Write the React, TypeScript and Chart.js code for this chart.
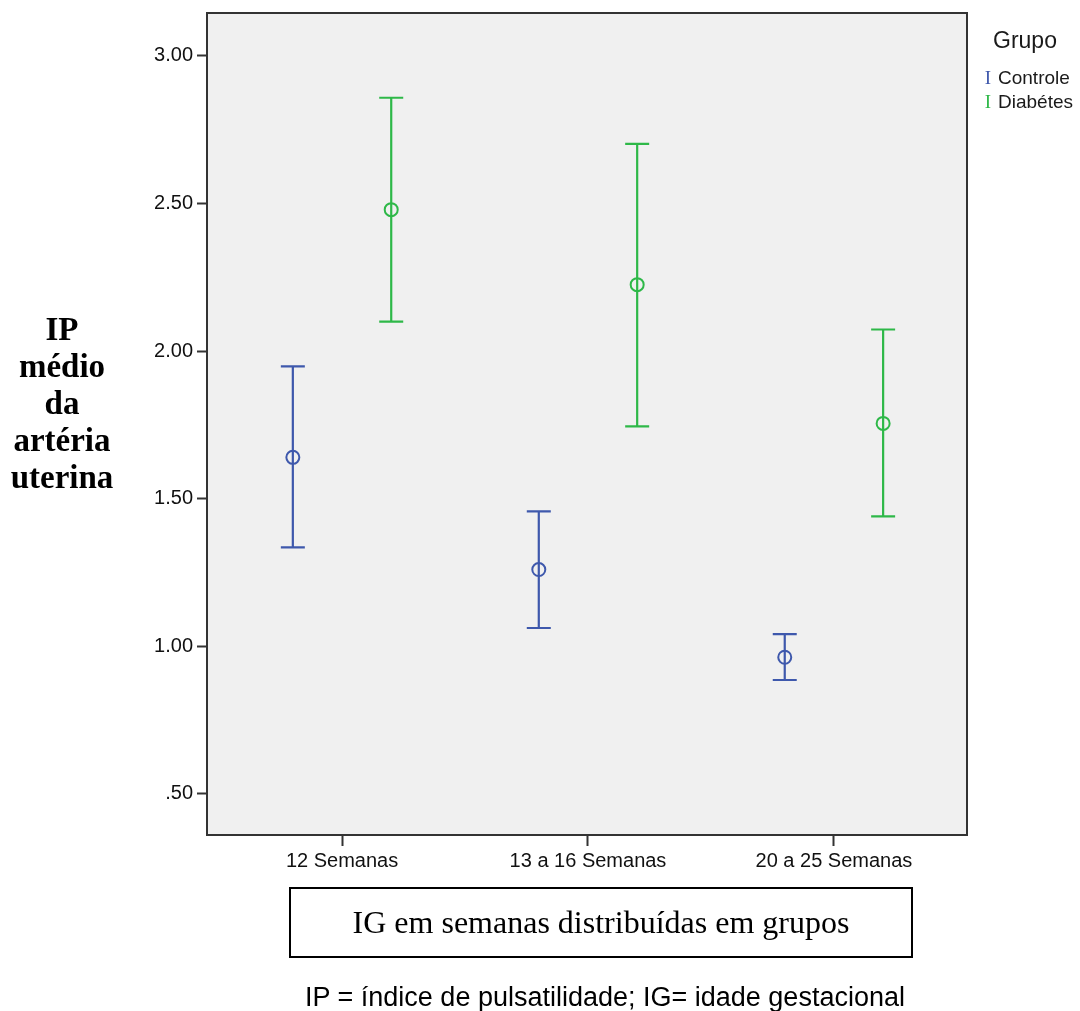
import React, { useEffect, useRef } from 'react';
import { Chart, registerables } from 'chart.js';

Chart.register(...registerables);

// ---- data ----
const categories = ['12 Semanas', '13 a 16 Semanas', '20 a 25 Semanas'];
const seriesNames = ['Controle', 'Diabétes'];
const seriesColors = ['#3E58AC', '#2EB848'];
const controleMean = [1.64, 1.26, 0.963];
const controleLower = [1.335, 1.062, 0.886];
const controleUpper = [1.948, 1.457, 1.041];
const diabetesMean = [2.479, 2.225, 1.755];
const diabetesLower = [2.1, 1.745, 1.44];
const diabetesUpper = [2.858, 2.702, 2.073];
const yTicks = [0.5, 1.0, 1.5, 2.0, 2.5, 3.0];

const yTitleLines = ['IP', 'médio', 'da', 'artéria', 'uterina'];
const xTitle = 'IG em semanas distribuídas em grupos';
const footnote = 'IP = índice de pulsatilidade; IG= idade gestacional';
const legendTitle = 'Grupo';

const SANS = '"Liberation Sans", Arial, sans-serif';
const SERIF = '"Liberation Serif", "Times New Roman", serif';

const GROUP_OFFSET = 0.2;

const bgBorderPlugin = {
  id: 'bgBorder',
  beforeDraw(chart: any) {
    const { ctx, chartArea: a } = chart;
    ctx.save();
    ctx.fillStyle = '#F0F0F0';
    ctx.fillRect(a.left, a.top, a.right - a.left, a.bottom - a.top);
    ctx.restore();
  },
  afterDraw(chart: any) {
    const { ctx, chartArea: a } = chart;
    ctx.save();
    ctx.strokeStyle = '#333333';
    ctx.lineWidth = 2;
    ctx.strokeRect(a.left, a.top, a.right - a.left, a.bottom - a.top);
    ctx.restore();
  },
};

const errorBarPlugin = {
  id: 'errorBars',
  beforeDatasetsDraw(chart: any) {
    const { ctx } = chart;
    const xs = chart.scales.x;
    const ys = chart.scales.y;
    chart.data.datasets.forEach((ds: any) => {
      ctx.save();
      ctx.strokeStyle = ds.borderColor;
      ctx.lineWidth = 2.2;
      ds.data.forEach((p: any, j: number) => {
        const x = xs.getPixelForValue(p.x);
        const yl = ys.getPixelForValue(ds.errLow[j]);
        const yh = ys.getPixelForValue(ds.errHigh[j]);
        const hw = 12;
        ctx.beginPath();
        ctx.moveTo(x, yl);
        ctx.lineTo(x, yh);
        ctx.moveTo(x - hw, yl);
        ctx.lineTo(x + hw, yl);
        ctx.moveTo(x - hw, yh);
        ctx.lineTo(x + hw, yh);
        ctx.stroke();
      });
      ctx.restore();
    });
  },
};

export default function App() {
  const ref = useRef<HTMLCanvasElement | null>(null);

  useEffect(() => {
    if (!ref.current) return;
    const means = [controleMean, diabetesMean];
    const lows = [controleLower, diabetesLower];
    const highs = [controleUpper, diabetesUpper];
    const offsets = [-GROUP_OFFSET, GROUP_OFFSET];
    const chart = new Chart(ref.current, {
      type: 'scatter',
      data: {
        datasets: seriesNames.map((name, s) => ({
          label: name,
          data: categories.map((_, i) => ({ x: i + offsets[s], y: means[s][i] })),
          errLow: lows[s],
          errHigh: highs[s],
          borderColor: seriesColors[s],
          backgroundColor: 'rgba(0,0,0,0)',
          pointStyle: 'circle',
          pointRadius: 6.5,
          pointBorderWidth: 2,
          showLine: false,
        })) as any,
      },
      options: {
        animation: false,
        responsive: false,
        maintainAspectRatio: false,
        layout: { padding: { top: 13, right: 113, bottom: 0, left: 0 } },
        plugins: {
          legend: { display: false },
          tooltip: { enabled: false },
        },
        scales: {
          x: {
            type: 'linear',
            min: -0.549,
            max: 2.541,
            afterFit(scale: any) {
              scale.height = 176;
              scale.paddingLeft = 0;
              scale.paddingRight = 0;
            },
            afterBuildTicks(scale: any) {
              scale.ticks = categories.map((_, i) => ({ value: i }));
            },
            border: { display: false },
            grid: {
              drawOnChartArea: false,
              drawTicks: true,
              tickLength: 11,
              tickColor: '#333333',
              tickWidth: 2,
            },
            ticks: {
              padding: 3,
              color: '#111111',
              font: { family: SANS, size: 20 },
              callback: (v: any) => categories[Math.round(Number(v))] ?? '',
            },
          },
          y: {
            type: 'linear',
            min: 0.361,
            max: 3.145,
            afterFit(scale: any) {
              scale.width = 207;
              scale.paddingTop = 0;
              scale.paddingBottom = 0;
            },
            afterBuildTicks(scale: any) {
              scale.ticks = yTicks.map((v) => ({ value: v }));
            },
            border: { display: false },
            grid: {
              drawOnChartArea: false,
              drawTicks: true,
              tickLength: 10,
              tickColor: '#333333',
              tickWidth: 2,
            },
            ticks: {
              padding: 4,
              color: '#111111',
              font: { family: SANS, size: 20 },
              callback: (v: any) => {
                const s = Number(v).toFixed(2);
                return s.startsWith('0') ? s.slice(1) : s;
              },
            },
          },
        },
      } as any,
      plugins: [bgBorderPlugin, errorBarPlugin],
    });
    return () => chart.destroy();
  }, []);

  return (
    <div
      style={{
        position: 'absolute',
        left: 0,
        top: 0,
        width: 1080,
        height: 1011,
        background: '#ffffff',
        overflow: 'hidden',
      }}
    >
      <canvas ref={ref} width={1080} height={1011} style={{ position: 'absolute', left: 0, top: 0, width: 1080, height: 1011 }} />

      {/* Y axis title */}
      <div
        style={{
          position: 'absolute',
          left: 0,
          top: 311,
          width: 124,
          textAlign: 'center',
          fontFamily: SERIF,
          fontWeight: 'bold',
          fontSize: 33,
          lineHeight: '37px',
          color: '#000',
        }}
      >
        {yTitleLines.map((l, i) => (
          <div key={i}>{l}</div>
        ))}
      </div>

      {/* Legend */}
      <div style={{ position: 'absolute', left: 993, top: 26, fontFamily: SANS, fontSize: 23, color: '#1a1a1a', lineHeight: '28px' }}>
        {legendTitle}
      </div>
      {seriesNames.map((name, s) => (
        <div
          key={name}
          style={{
            position: 'absolute',
            left: 978,
            top: 66 + s * 24,
            fontFamily: SANS,
            fontSize: 19,
            lineHeight: '24px',
            color: '#1a1a1a',
            whiteSpace: 'nowrap',
          }}
        >
          <span style={{ fontFamily: SERIF, color: seriesColors[s], fontSize: 19, display: 'inline-block', width: 20, textAlign: 'center' }}>I</span>
          {name}
        </div>
      ))}

      {/* X axis title box */}
      <div
        style={{
          position: 'absolute',
          left: 289,
          top: 887,
          width: 624,
          height: 71,
          boxSizing: 'border-box',
          border: '2px solid #000',
          display: 'flex',
          alignItems: 'center',
          justifyContent: 'center',
          fontFamily: SERIF,
          fontSize: 32,
          color: '#000',
        }}
      >
        {xTitle}
      </div>

      {/* Footnote */}
      <div
        style={{
          position: 'absolute',
          left: 0,
          width: 1210,
          top: 981,
          textAlign: 'center',
          fontFamily: SANS,
          fontSize: 27,
          lineHeight: '32px',
          color: '#000',
          whiteSpace: 'nowrap',
        }}
      >
        {footnote}
      </div>
    </div>
  );
}
